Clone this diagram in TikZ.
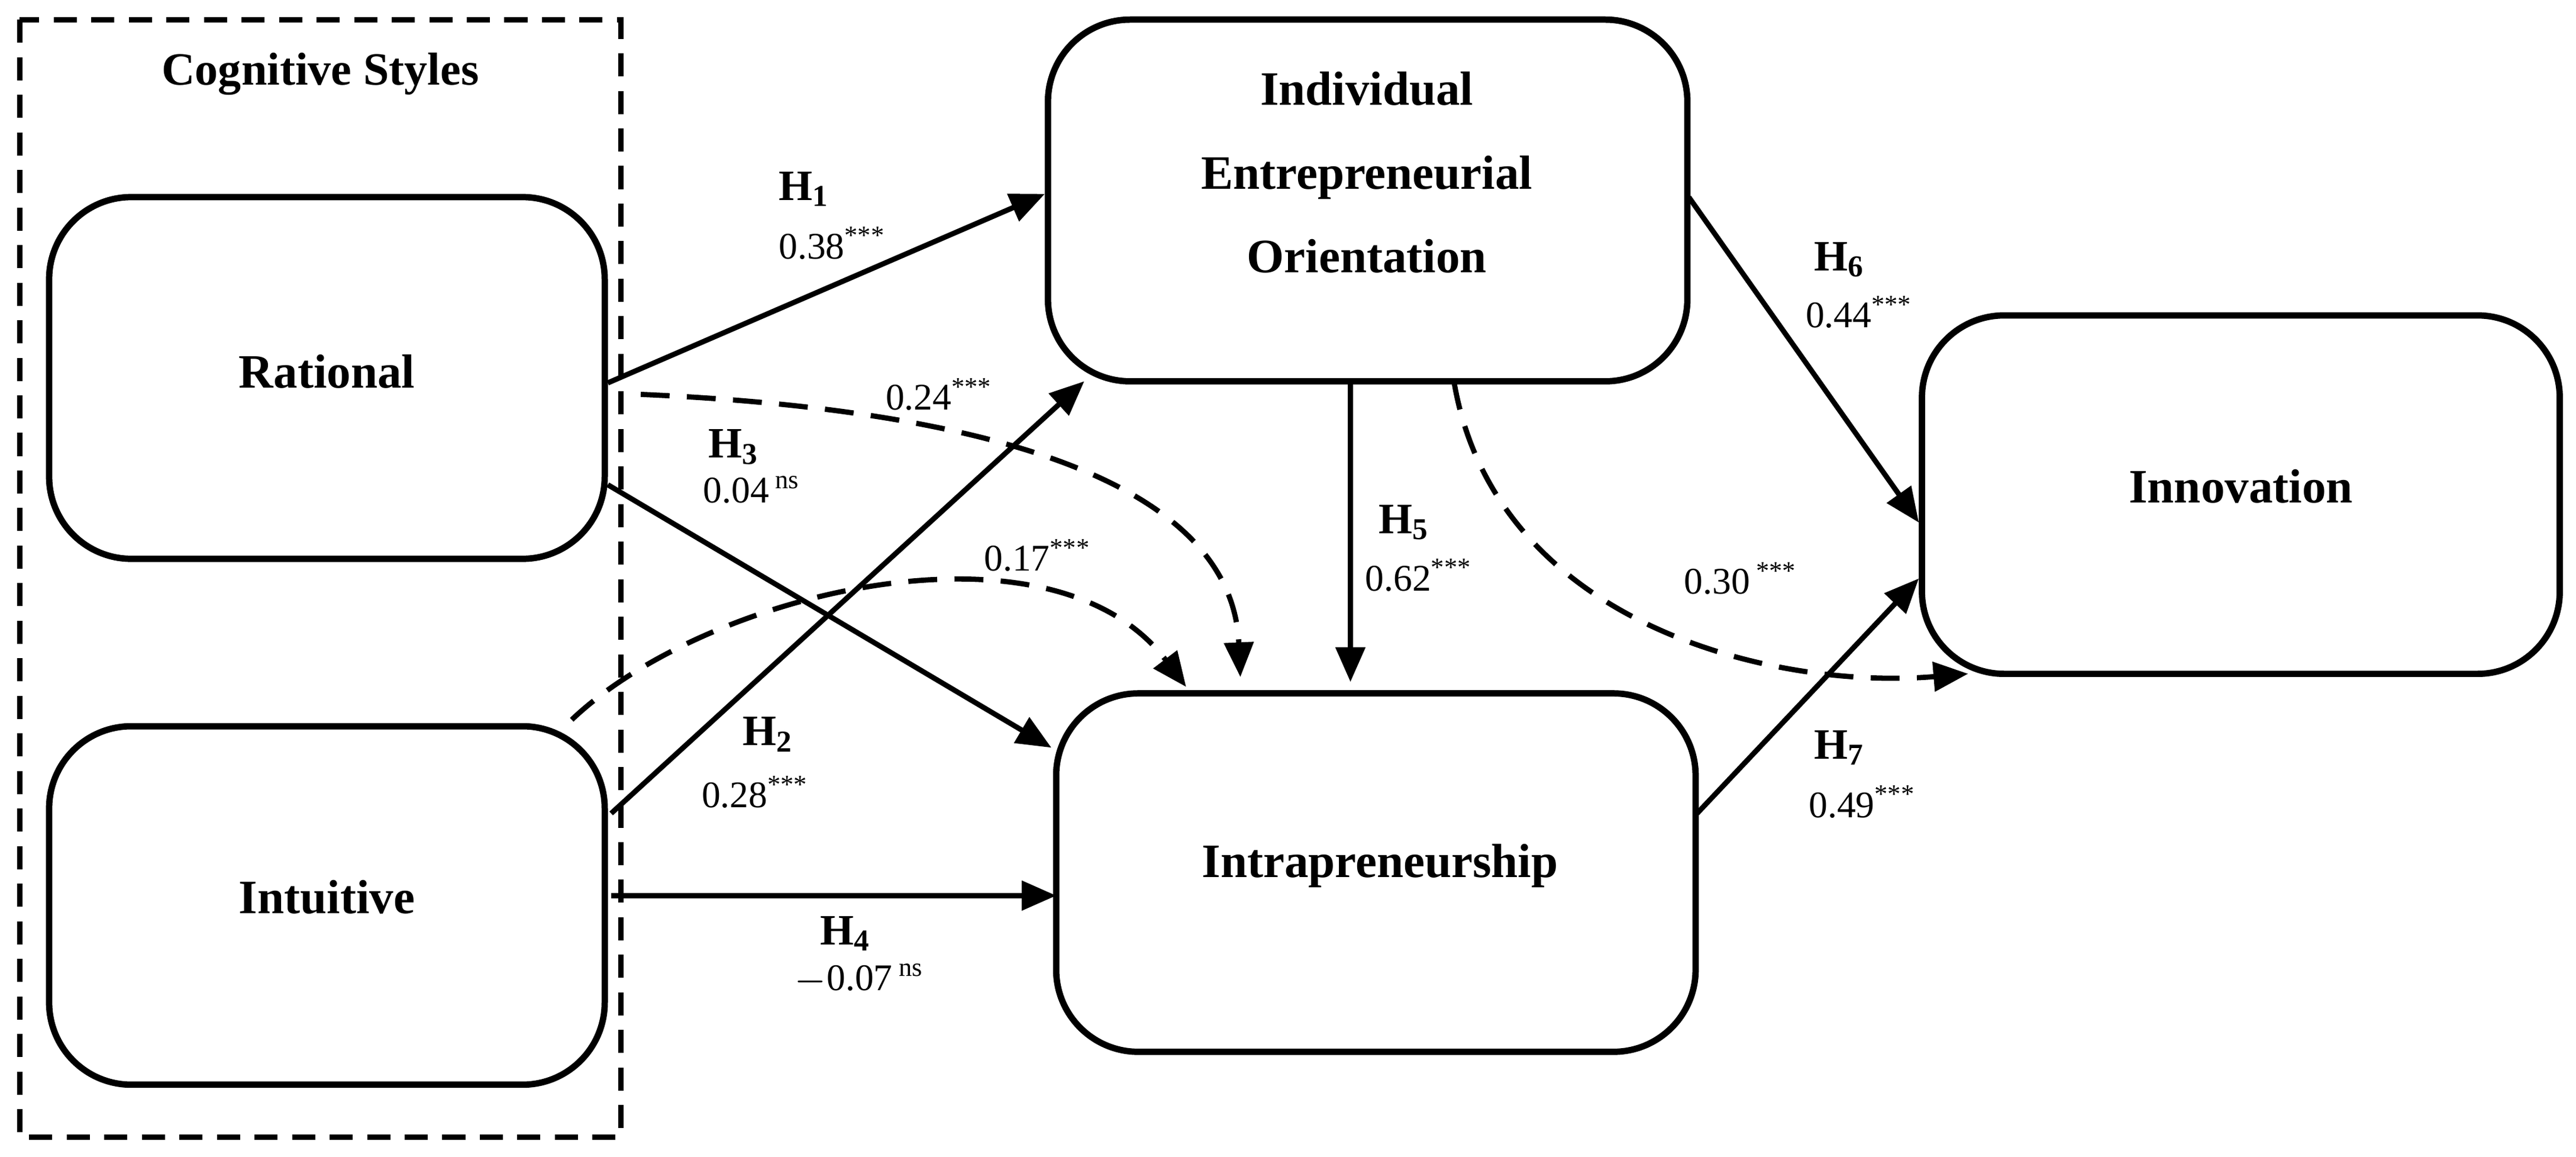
\documentclass[tikz,border=0pt]{standalone}
\usepackage{fontspec}
\setmainfont{Liberation Serif}
\usetikzlibrary{arrows.meta}
\begin{document}
\begin{tikzpicture}[x=0.01cm,y=-0.01cm,
 box/.style={draw,line width=1.1pt,rounded corners=0.5cm,align=center,inner sep=0pt,font=\fontsize{8.3}{12.5}\selectfont\bfseries},
 lbl/.style={align=center,font=\fontsize{8.3}{14.5}\selectfont\bfseries},
 arr/.style={line width=0.9pt,-{Triangle[length=6pt,width=5pt]}},
 darr/.style={arr,dash pattern=on 5pt off 3pt},
 h/.style={font=\fontsize{7.5}{8}\selectfont\bfseries},
 v/.style={font=\fontsize{6.5}{8}\selectfont}]
\useasboundingbox (0,0) rectangle (1568,704);
\draw[line width=0.9pt,dash pattern=on 4pt off 2.5pt] (12,12) rectangle (378,692);
\node[font=\fontsize{8}{10}\selectfont\bfseries] (cs) at (195,45) {Cognitive Styles};
\node[box,minimum width=3.38cm,minimum height=2.2cm] (R) at (199,230) {};
\node[box,minimum width=3.38cm,minimum height=2.18cm] (I) at (199,551) {};
\node[box,minimum width=3.89cm,minimum height=2.2cm] (E) at (832.5,122) {};
\node[box,minimum width=3.89cm,minimum height=2.18cm] (P) at (837.5,531) {};
\node[box,minimum width=3.88cm,minimum height=2.18cm] (N) at (1364,301) {};
\node[lbl] (Rt) at (199,226) {Rational};
\node[lbl] (It) at (199,546) {Intuitive};
\node[lbl] (Et) at (832,105) {Individual\\Entrepreneurial\\Orientation};
\node[lbl] (Pt) at (840,527) {Intrapreneurship};
\node[lbl] (Nt) at (1364,296) {Innovation};
\coordinate (a1) at (370,233); \coordinate (b1) at (636,118);
\coordinate (a2) at (372,495); \coordinate (b2) at (660,232);
\coordinate (a3) at (370,295); \coordinate (b3) at (640,455);
\coordinate (a4) at (372,545); \coordinate (b4) at (643,545);
\coordinate (a5) at (822,232); \coordinate (b5) at (822,415);
\coordinate (a6) at (1028,120); \coordinate (b6) at (1168,318);
\coordinate (a7) at (1033,495); \coordinate (b7) at (1168,352);
\coordinate (d1) at (390,240); \coordinate (e1) at (755,412);
\coordinate (d2) at (348,438); \coordinate (e2) at (722,418);
\coordinate (d3) at (885,232); \coordinate (e3) at (1198,410);
\draw[arr] (a1)--(b1); \draw[arr] (a2)--(b2); \draw[arr] (a3)--(b3);
\draw[arr] (a4)--(b4); \draw[arr] (a5)--(b5); \draw[arr] (a6)--(b6); \draw[arr] (a7)--(b7);
\draw[darr] (d1) .. controls (620,250) and (750,300) .. (e1);
\draw[darr] (d2) .. controls (430,360) and (640,310) .. (e2);
\draw[darr] (d3) .. controls (910,380) and (1080,420) .. (e3);
\node[h] (h1) at (490,115) {H\textsubscript{1}}; \node[v] (v1) at (507,148) {0.38\textsuperscript{***}};
\node[v] (v13) at (572,240) {0.24\textsuperscript{***}};
\node[h] (h3) at (447,272) {H\textsubscript{3}}; \node[v] (v3) at (458,298) {0.04\,\textsuperscript{ns}};
\node[v] (v23) at (632,338) {0.17\textsuperscript{***}};
\node[h] (h2) at (468,447) {H\textsubscript{2}}; \node[v] (v2) at (460,482) {0.28\textsuperscript{***}};
\node[h] (h4) at (515,568) {H\textsubscript{4}}; \node[v] (v4) at (523,596) {$-$0.07\,\textsuperscript{ns}};
\node[h] (h5) at (855,318) {H\textsubscript{5}}; \node[v] (v5) at (864,350) {0.62\textsuperscript{***}};
\node[v] (v56) at (1060,352) {0.30\,\textsuperscript{***}};
\node[h] (h6) at (1120,158) {H\textsubscript{6}}; \node[v] (v6) at (1132,190) {0.44\textsuperscript{***}};
\node[h] (h7) at (1120,455) {H\textsubscript{7}}; \node[v] (v7) at (1134,488) {0.49\textsuperscript{***}};
\end{tikzpicture}
\end{document}
